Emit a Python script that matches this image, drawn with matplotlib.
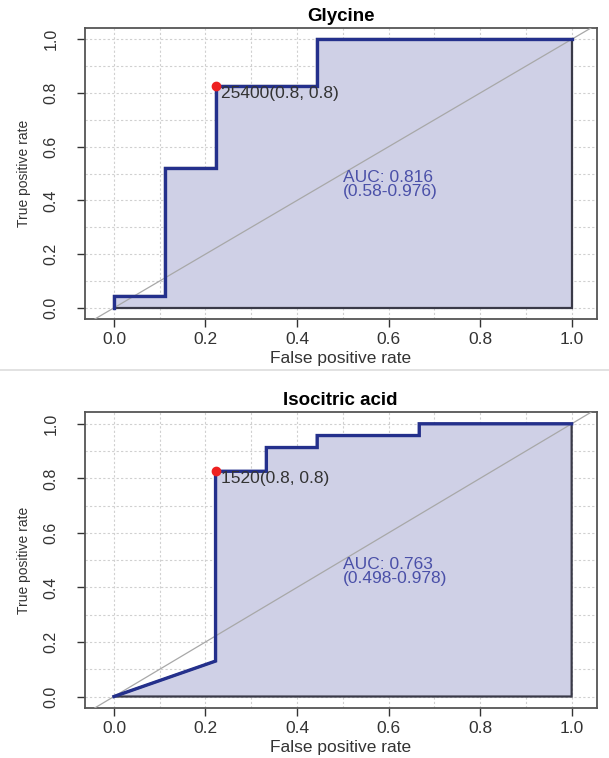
import matplotlib
matplotlib.use('Agg')
import matplotlib.pyplot as plt
from matplotlib.lines import Line2D

# ROC curves (false positive rate, true positive rate)
gly_fpr = [0.0, 0.0, 0.111, 0.111, 0.222, 0.222, 0.444, 0.444, 1.0]
gly_tpr = [0.0, 0.043, 0.043, 0.522, 0.522, 0.826, 0.826, 1.0, 1.0]
iso_fpr = [0.0, 0.222, 0.222, 0.333, 0.333, 0.444, 0.444, 0.667, 0.667, 1.0]
iso_tpr = [0.0, 0.130, 0.826, 0.826, 0.913, 0.913, 0.957, 0.957, 1.0, 1.0]

titles = ["Glycine", "Isocitric acid"]
best_points = [(0.222, 0.826), (0.222, 0.826)]
best_labels = ["25400(0.8, 0.8)", "1520(0.8, 0.8)"]
auc_labels = ["AUC: 0.816\n(0.58-0.976)", "AUC: 0.763\n(0.498-0.978)"]
ticks = [0.0, 0.2, 0.4, 0.6, 0.8, 1.0]

SANS = ['Liberation Sans', 'DejaVu Sans']

fig = plt.figure(figsize=(6.09, 7.58), dpi=100)
rects = [[0.139, 0.579, 0.841, 0.384], [0.139, 0.066, 0.841, 0.390]]
curves = [(gly_fpr, gly_tpr), (iso_fpr, iso_tpr)]

for i in range(2):
    ax = fig.add_axes(rects[i])
    fpr, tpr = curves[i]
    ax.set_xlim(-0.064, 1.055)
    ax.set_ylim(-0.042, 1.042)
    ax.set_xticks([k / 10 for k in range(11)], minor=True)
    ax.set_yticks([k / 10 for k in range(11)], minor=True)
    ax.grid(True, which='both', color='#d0d0d0', linestyle=(0, (2, 2)), linewidth=0.8)
    ax.set_axisbelow(True)

    # auc polygon under the curve, then diagonal, curve and best threshold
    poly_x = list(fpr) + [1.0, 0.0]
    poly_y = list(tpr) + [0.0, 0.0]
    ax.fill(poly_x, poly_y, facecolor='#cfd0e6', edgecolor='#3a3a48', linewidth=1.6, zorder=2)
    ax.axline((0, 0), (1, 1), color='#a8a8a8', linewidth=0.9, zorder=3)
    ax.plot(fpr, tpr, color='#24308c', linewidth=2.4, zorder=4, solid_joinstyle='miter')
    ax.plot(*best_points[i], 'o', color='#ee2020', markersize=6, zorder=5)
    ax.text(best_points[i][0] + 0.012, best_points[i][1] - 0.028, best_labels[i],
            fontsize=12.5, color='#333333', va='center', ha='left', family=SANS, zorder=6)
    ax.text(0.5, 0.458, auc_labels[i], fontsize=12.5, color='#4a50a8', va='center',
            ha='left', family=SANS, linespacing=0.92, zorder=6)

    ax.set_xticks(ticks)
    ax.set_yticks(ticks)
    ax.set_xticklabels(["%.1f" % t for t in ticks], fontsize=12.5, family=SANS, color='#333333')
    ax.set_yticklabels(["%.1f" % t for t in ticks], fontsize=11.5, family=SANS,
                       rotation=90, va='center', color='#333333')
    ax.tick_params(which='major', length=6, width=1, color='#333333')
    ax.tick_params(axis='y', which='major', pad=13)
    ax.tick_params(which='minor', length=0)
    for s in ax.spines.values():
        s.set_color('#555555')
        s.set_linewidth(1.3)
    ax.set_title(titles[i], fontsize=13.5, fontweight='bold', family=SANS, pad=5)
    ax.set_xlabel("False positive rate", fontsize=12.5, family=SANS, color='#333333', labelpad=3)
    ax.set_ylabel("True positive rate", fontsize=10, family=SANS, color='#333333', labelpad=9)

# thin separator between the two stacked panels
fig.add_artist(Line2D([0, 1], [0.512, 0.512], color='#dddddd', linewidth=1.2))

fig.savefig('out.png', dpi=100)
